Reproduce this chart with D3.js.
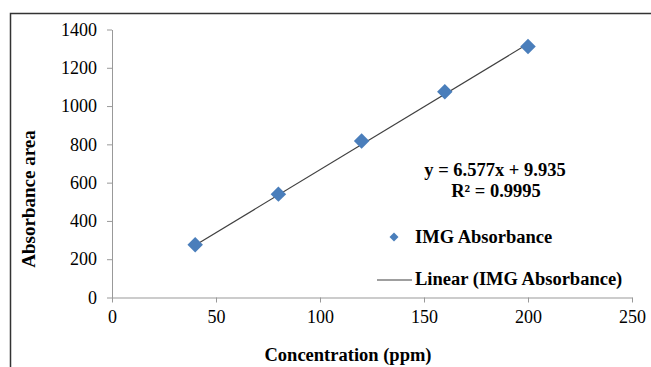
<!DOCTYPE html>
<html>
<head>
<meta charset="utf-8">
<script src="https://cdn.jsdelivr.net/npm/d3@7"></script>
<style>
  body { margin: 0; background: #fff; }
  text { font-family: "Liberation Serif", "Times New Roman", serif; fill: #000; }
</style>
</head>
<body>
<svg id="chart" width="651" height="367"></svg>
<script>
// data
const concentration = [40, 80, 120, 160, 200]
const absorbance = [276, 540, 818, 1075, 1311]
const slope = 6.577
const intercept = 9.935
const xTicks = [0, 50, 100, 150, 200, 250]
const yTicks = [0, 200, 400, 600, 800, 1000, 1200, 1400]

const svg = d3.select('#chart')

// outer frame (only top and left edges are visible)
svg.append('path')
  .attr('d', 'M10.5,367 L10.5,13.5 L651,13.5')
  .attr('fill', 'none')
  .attr('stroke', '#333')
  .attr('stroke-width', 1.5)

const xScale = d3.scaleLinear().domain([0, 250]).range([112, 632])
const yScale = d3.scaleLinear().domain([0, 1400]).range([297.5, 29.5])

/**
 * Styles an axis group like the Excel original.
 *
 * @param {*} g The d3 Selection of the axis group
 */
function styleAxis (g) {
  g.attr('font-family', null)
  g.select('.domain').attr('stroke', '#999')
  g.selectAll('.tick line').attr('stroke', '#999')
  g.selectAll('.tick text')
    .style('font-family', '"Liberation Serif", serif')
    .style('font-size', '18px')
    .attr('fill', '#000')
}

// x axis
svg.append('g')
  .attr('transform', `translate(0,${yScale(0)})`)
  .call(d3.axisBottom(xScale).tickValues(xTicks).tickFormat(d3.format('d'))
    .tickSize(5).tickPadding(8).tickSizeOuter(0))
  .call(styleAxis)

// y axis
svg.append('g')
  .attr('transform', `translate(${xScale(0)},0)`)
  .call(d3.axisLeft(yScale).tickValues(yTicks).tickFormat(d3.format('d'))
    .tickSize(5).tickPadding(10).tickSizeOuter(0))
  .call(styleAxis)

// axis titles
svg.append('text')
  .attr('x', 348)
  .attr('y', 361)
  .attr('text-anchor', 'middle')
  .style('font-size', '18.5px')
  .style('font-weight', 'bold')
  .text('Concentration (ppm)')

svg.append('text')
  .attr('transform', 'translate(35,199) rotate(-90)')
  .attr('text-anchor', 'middle')
  .style('font-size', '19px')
  .style('font-weight', 'bold')
  .text('Absorbance area')

// trend line
const x0 = d3.min(concentration)
const x1 = d3.max(concentration)
svg.append('line')
  .attr('x1', xScale(x0))
  .attr('y1', yScale(slope * x0 + intercept))
  .attr('x2', xScale(x1))
  .attr('y2', yScale(slope * x1 + intercept))
  .attr('stroke', '#404040')
  .attr('stroke-width', 1.2)

// points
const diamond = d3.symbol().type(d3.symbolSquare).size(120)
svg.selectAll('.pt')
  .data(concentration)
  .enter()
  .append('path')
  .attr('class', 'pt')
  .attr('d', diamond)
  .attr('transform', (d, i) => `translate(${xScale(d)},${yScale(absorbance[i])}) rotate(45)`)
  .attr('fill', '#4a7ebb')

// equation
svg.append('text')
  .attr('x', 495)
  .attr('y', 176)
  .attr('text-anchor', 'middle')
  .style('font-size', '18.5px')
  .style('font-weight', 'bold')
  .text(`y = ${slope}x + ${intercept}`)
svg.append('text')
  .attr('x', 496)
  .attr('y', 197)
  .attr('text-anchor', 'middle')
  .style('font-size', '18.5px')
  .style('font-weight', 'bold')
  .text('R² = 0.9995')

// legend
svg.append('path')
  .attr('d', d3.symbol().type(d3.symbolSquare).size(40))
  .attr('transform', 'translate(394,237) rotate(45)')
  .attr('fill', '#4a7ebb')
svg.append('text')
  .attr('x', 415)
  .attr('y', 243)
  .style('font-size', '18.5px')
  .style('font-weight', 'bold')
  .text('IMG Absorbance')

svg.append('line')
  .attr('x1', 377)
  .attr('x2', 412)
  .attr('y1', 280)
  .attr('y2', 280)
  .attr('stroke', '#404040')
  .attr('stroke-width', 1.2)
svg.append('text')
  .attr('x', 415)
  .attr('y', 285)
  .style('font-size', '18.5px')
  .style('font-weight', 'bold')
  .text('Linear (IMG Absorbance)')
</script>
</body>
</html>
